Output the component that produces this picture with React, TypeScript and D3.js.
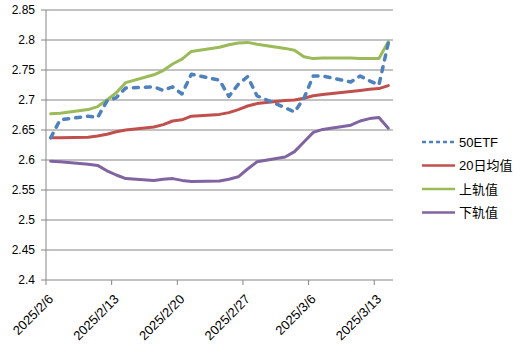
import React from "react";
import * as d3 from "d3";

const dates = [
  "2025-02-06","2025-02-07","2025-02-10","2025-02-11","2025-02-12","2025-02-13","2025-02-14",
  "2025-02-17","2025-02-18","2025-02-19","2025-02-20","2025-02-21",
  "2025-02-24","2025-02-25","2025-02-26","2025-02-27","2025-02-28",
  "2025-03-03","2025-03-04","2025-03-05","2025-03-06","2025-03-07",
  "2025-03-10","2025-03-11","2025-03-12","2025-03-13","2025-03-14",
];
const etf50 = [2.637,2.667,2.673,2.671,2.698,2.704,2.720,2.722,2.716,2.722,2.710,2.743,2.733,2.706,2.726,2.739,2.707,2.687,2.680,2.703,2.740,2.740,2.730,2.740,2.732,2.725,2.795];
const ma20 = [2.637,2.637,2.638,2.640,2.643,2.647,2.650,2.655,2.659,2.665,2.667,2.673,2.676,2.679,2.684,2.690,2.694,2.699,2.700,2.703,2.707,2.709,2.714,2.716,2.718,2.719,2.724];
const upper = [2.677,2.678,2.684,2.689,2.700,2.712,2.729,2.742,2.749,2.760,2.768,2.781,2.788,2.792,2.795,2.796,2.793,2.786,2.783,2.772,2.769,2.770,2.770,2.769,2.769,2.769,2.797];
const lower = [2.598,2.597,2.593,2.591,2.582,2.575,2.569,2.566,2.568,2.569,2.566,2.564,2.565,2.568,2.572,2.585,2.597,2.605,2.614,2.630,2.646,2.651,2.658,2.665,2.669,2.671,2.653];
const yTicks = [2.4,2.45,2.5,2.55,2.6,2.65,2.7,2.75,2.8,2.85];
const xTickLabels = ["2025/2/6","2025/2/13","2025/2/20","2025/2/27","2025/3/6","2025/3/13"];
const seriesNames = ["50ETF","20日均值","上轨值","下轨值"];
const seriesColors = ["#4F81BD","#C0504D","#9BBB59","#8064A2"];

const parse = d3.utcParse("%Y-%m-%d");
const DAY = 86400000;

export default function App() {
  const left = 46, right = 393, top = 10, bottom = 280;
  const start = parse("2025-02-06")!;
  const end = new Date(parse("2025-03-14")!.getTime() + DAY);
  const x = d3.scaleUtc().domain([start, end]).range([left, right]);
  const y = d3.scaleLinear().domain([2.4, 2.85]).range([bottom, top]);
  const xc = (s: string) => x(new Date(parse(s)!.getTime() + DAY / 2));
  const line = (vals: number[]) =>
    d3.line<number>().x((_, i) => xc(dates[i])).y((v) => y(v))(vals) || "";
  const tickDates = xTickLabels.map((t) => {
    const [yy, mm, dd] = t.split("/").map(Number);
    return new Date(Date.UTC(yy, mm - 1, dd));
  });
  const font = "'Liberation Sans', 'Noto Sans CJK SC', sans-serif";
  const grid = "#868686";
  return (
    <svg width={523} height={357} style={{ position: "absolute", left: 0, top: 0, background: "#fff" }} fontFamily={font}>
      {yTicks.map((t) => (
        <g key={t}>
          <line x1={left} x2={right} y1={y(t)} y2={y(t)} stroke={grid} strokeWidth={1} />
          <line x1={left - 5} x2={left} y1={y(t)} y2={y(t)} stroke={grid} strokeWidth={1} />
          <text x={35} y={y(t)} dy="0.35em" textAnchor="end" fontSize={12} fill="#000">{t}</text>
        </g>
      ))}
      <line x1={left} x2={left} y1={top} y2={bottom} stroke={grid} strokeWidth={1} />
      {tickDates.map((d, i) => (
        <g key={i}>
          <line x1={x(d)} x2={x(d)} y1={bottom} y2={bottom + 5} stroke={grid} strokeWidth={1} />
          <text transform={`translate(${x(d) + 8},${bottom + 20}) rotate(-45)`} textAnchor="end" fontSize={13} fill="#000">{xTickLabels[i]}</text>
        </g>
      ))}
      {[ma20, upper, lower].map((vals, k) => (
        <path key={k} d={line(vals)} fill="none" stroke={seriesColors[k + 1]} strokeWidth={3} strokeLinejoin="round" strokeLinecap="round" />
      ))}
      <path d={line(etf50)} fill="none" stroke={seriesColors[0]} strokeWidth={3.5} strokeDasharray="5,7" strokeLinejoin="round" strokeLinecap="round" />
      {seriesNames.map((n, i) => {
        const ly = 142 + i * 23.5;
        return (
          <g key={n}>
            <line x1={422} x2={455} y1={ly} y2={ly} stroke={seriesColors[i]} strokeWidth={2.5}
              strokeDasharray={i === 0 ? "4,3" : undefined} />
            <text x={459} y={ly} dy="0.35em" fontSize={13} fill="#000">{n}</text>
          </g>
        );
      })}
    </svg>
  );
}
